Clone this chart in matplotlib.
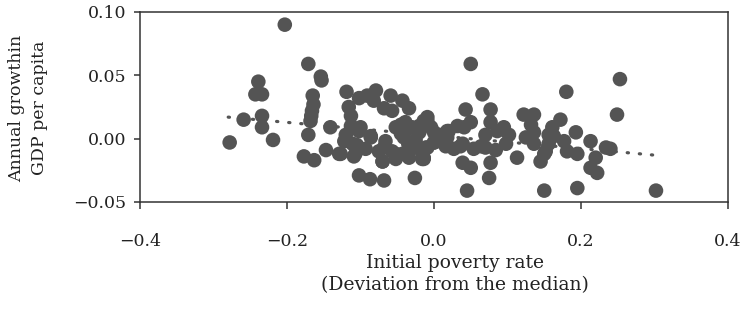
import numpy as np
import matplotlib
matplotlib.use("Agg")
from matplotlib import pyplot as plt
from matplotlib.ticker import FuncFormatter

# initial poverty rate (deviation from median) vs annual growth in GDP per capita
poverty = [
    -0.278, -0.259, -0.239, -0.243, -0.234, -0.234, -0.234, -0.219, -0.203, -0.171,
    -0.154, -0.153, -0.165, -0.164, -0.166, -0.167, -0.168, -0.171, -0.177, -0.163,
    -0.141, -0.147, -0.129, -0.119, -0.116, -0.113, -0.120, -0.111, -0.107, -0.102,
    -0.102, -0.102, -0.087, -0.068, -0.026, -0.091, -0.079, -0.082, -0.059, -0.043,
    -0.034, -0.068, -0.057, -0.100, -0.086, -0.066, -0.052, -0.039, -0.020, -0.014,
    -0.093, -0.075, -0.057, -0.043, -0.030, -0.011, -0.070, -0.052, -0.034, -0.016,
    0.050, 0.066, 0.043, 0.077, 0.077, 0.050, -0.009, -0.004, 0.007, 0.020,
    0.032, 0.041, 0.018, -0.009, -0.014, 0.014, 0.039, 0.054, 0.070, 0.070,
    0.095, 0.102, 0.098, 0.086, 0.039, 0.050, 0.077, 0.075, 0.045, 0.113,
    0.122, 0.136, 0.132, 0.136, 0.125, 0.136, 0.145, 0.152, 0.150, 0.180,
    0.172, 0.161, 0.163, 0.156, 0.150, 0.177, 0.181, 0.193, 0.195, 0.195,
    0.213, 0.220, 0.213, 0.222, 0.234, 0.240, 0.253, 0.249, 0.302, 0.156,
    0.000, 0.027, -0.045, -0.030, -0.009, 0.000, 0.018, -0.086, -0.122, -0.127,
    -0.109, -0.070, -0.052, -0.020, -0.014, 0.000, 0.016, 0.036, -0.034, -0.041,
    -0.068, -0.045, -0.025, -0.035, -0.020, -0.105, -0.113, 0.064, 0.084,
]
growth = [
    -0.003, 0.015, 0.045, 0.035, 0.035, 0.018, 0.009, -0.001, 0.090, 0.059,
    0.049, 0.046, 0.034, 0.027, 0.022, 0.018, 0.014, 0.003, -0.014, -0.017,
    0.009, -0.009, -0.012, 0.037, 0.025, 0.018, 0.003, -0.004, -0.012, 0.006,
    0.032, -0.029, -0.032, -0.033, -0.031, 0.034, 0.038, 0.030, 0.034, 0.030,
    0.024, 0.024, 0.022, 0.009, 0.002, -0.002, 0.009, 0.013, 0.010, 0.014,
    -0.008, -0.010, -0.010, -0.012, -0.007, -0.007, -0.018, -0.016, -0.015, -0.016,
    0.059, 0.035, 0.023, 0.023, 0.013, 0.013, 0.017, 0.009, 0.003, 0.006,
    0.010, 0.009, 0.001, -0.007, -0.015, -0.004, -0.004, -0.008, -0.007, 0.003,
    0.009, 0.003, -0.004, 0.006, -0.019, -0.023, -0.019, -0.031, -0.041, -0.015,
    0.019, 0.019, 0.011, 0.005, 0.001, -0.004, -0.018, -0.010, -0.041, 0.037,
    0.015, 0.009, 0.002, -0.004, -0.012, -0.002, -0.010, 0.005, -0.012, -0.039,
    -0.002, -0.015, -0.023, -0.027, -0.007, -0.008, 0.047, 0.019, -0.041, 0.003,
    -0.003, -0.008, 0.011, 0.009, 0.014, 0.005, 0.006, 0.001, -0.002, -0.012,
    -0.014, -0.018, -0.012, -0.008, -0.016, -0.003, -0.006, -0.006, -0.007, 0.001,
    -0.007, 0.004, -0.001, -0.004, 0.005, -0.005, 0.010, -0.006, -0.009,
]

# fitted trend line end points
trend_x = [-0.28, 0.30]
trend_y = [0.017, -0.013]

xticks = [-0.4, -0.2, 0.0, 0.2, 0.4]
yticks = [-0.05, 0.00, 0.05, 0.10]

plt.rcParams['font.family'] = ['DejaVu Serif']

fig = plt.figure(figsize=(7.42, 3.16), dpi=100)
ax = fig.add_axes([140/742, 1 - 202/316, 588/742, 190/316])

ax.plot(trend_x, trend_y, color='#555555', lw=2.3, linestyle=(0, (0.4, 3.4)),
        dash_capstyle='round', zorder=1)
ax.scatter(poverty, growth, s=110, color='#545454', edgecolors='none', zorder=2)

ax.set_xlim(-0.4, 0.4)
ax.set_ylim(-0.05, 0.10)
ax.set_xticks(xticks)
ax.set_yticks(yticks)
ax.xaxis.set_major_formatter(FuncFormatter(
    lambda v, p: ('%.1f' % v).replace('-', '\u2212')))
ax.yaxis.set_major_formatter(FuncFormatter(
    lambda v, p: ('%.2f' % v).replace('-', '\u2212')))

for s in ax.spines.values():
    s.set_color('#333333')
    s.set_linewidth(1.1)
ax.tick_params(axis='x', direction='out', length=5, width=1.1, pad=17,
               labelsize=12.5, colors='#333333', labelcolor='#222222')
ax.tick_params(axis='y', direction='out', length=4, width=1.1, pad=6,
               labelsize=12.5, colors='#333333', labelcolor='#222222')

fig.text(455/742, 1 - 274/316, 'Initial poverty rate\n(Deviation from the median)',
         ha='center', va='center', fontsize=13.5, color='#222222', linespacing=1.3)
fig.text(28/742, 1 - 108/316, 'Annual growthin\nGDP per capita', rotation=90,
         ha='center', va='center', fontsize=12.5, color='#222222',
         multialignment='center', linespacing=1.45)

fig.savefig('out.png', dpi=100)
